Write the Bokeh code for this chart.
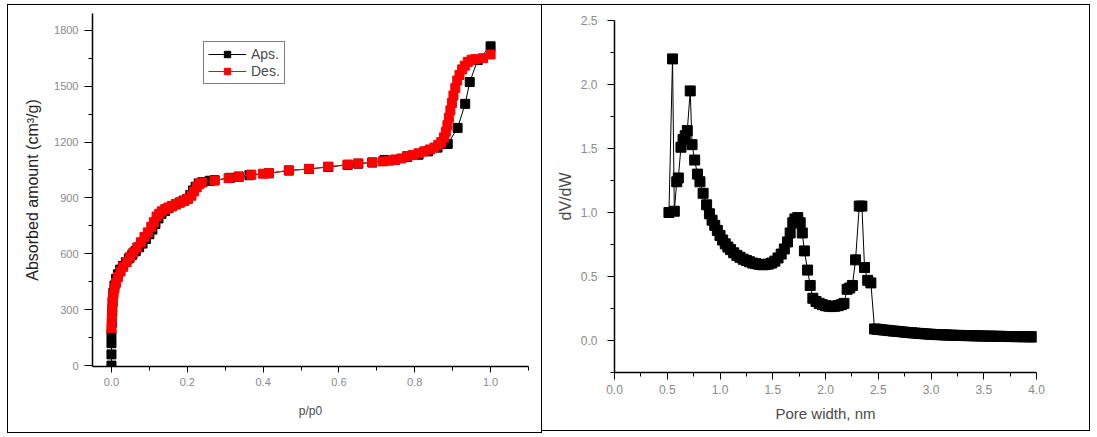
from bokeh.plotting import figure
from bokeh.layouts import row, column
from bokeh.models import FixedTicker, Range1d, PrintfTickFormatter, Legend, LegendItem, Spacer
from bokeh.embed import file_html
from bokeh.resources import INLINE

# ---------------- data: isotherm (left) ----------------
ads_p = [0.000, 0.000, 0.000, 0.000, 0.001, 0.002, 0.003, 0.005, 0.008, 0.012,
         0.017, 0.023, 0.030, 0.038, 0.046, 0.055, 0.064, 0.073, 0.082, 0.091,
         0.100, 0.108, 0.116, 0.124, 0.132, 0.141, 0.150, 0.160, 0.170, 0.180,
         0.190, 0.200, 0.208, 0.215, 0.222, 0.230, 0.240, 0.259, 0.272, 0.313,
         0.336, 0.364, 0.415, 0.468, 0.521, 0.572, 0.623, 0.651, 0.688, 0.720,
         0.748, 0.780, 0.810, 0.835, 0.860, 0.887, 0.913, 0.933, 0.945, 0.966,
         1.000]
ads_v = [0, 60, 120, 170, 230, 290, 340, 390, 430, 465,
         490, 515, 535, 555, 575, 595, 615, 635, 655, 680,
         705, 730, 760, 790, 815, 830, 845, 855, 865, 875,
         885, 895, 915, 940, 960, 978, 985, 992, 995, 1008,
         1014, 1022, 1032, 1047, 1055, 1066, 1077, 1084, 1090, 1104,
         1105, 1120, 1132, 1150, 1170, 1190, 1276, 1405, 1522, 1640,
         1714]

des_p = [1.000, 0.980, 0.960, 0.950, 0.940, 0.932, 0.925, 0.918, 0.912, 0.907,
         0.902, 0.898, 0.894, 0.890, 0.886, 0.882, 0.877, 0.870, 0.862, 0.852,
         0.840, 0.825, 0.810, 0.795, 0.780, 0.765, 0.748, 0.732, 0.716, 0.688,
         0.651, 0.623, 0.572, 0.521, 0.468, 0.415, 0.400, 0.369, 0.336, 0.309,
         0.272, 0.239, 0.232, 0.225, 0.218, 0.211, 0.202, 0.193, 0.182, 0.170,
         0.160, 0.151, 0.142, 0.133, 0.126, 0.119, 0.112, 0.105, 0.096, 0.087,
         0.078, 0.068, 0.058, 0.049, 0.040, 0.031, 0.024, 0.017, 0.012, 0.008,
         0.005, 0.003, 0.002, 0.001, 0.000]
des_v = [1670, 1650, 1645, 1642, 1630, 1610, 1590, 1560, 1530, 1490,
         1450, 1410, 1370, 1330, 1290, 1255, 1225, 1200, 1185, 1170,
         1160, 1150, 1140, 1130, 1125, 1112, 1105, 1100, 1096, 1091,
         1085, 1079, 1068, 1056, 1048, 1033, 1030, 1025, 1015, 1006,
         993, 983, 975, 957, 935, 912, 895, 885, 876, 867,
         857, 849, 840, 828, 815, 800, 770, 745, 715, 690,
         662, 634, 607, 582, 556, 530, 505, 475, 445, 415,
         380, 345, 300, 250, 200]

iso_xticks = [0.0, 0.2, 0.4, 0.6, 0.8, 1.0]
iso_xminor = [-0.1, 0.1, 0.3, 0.5, 0.7, 0.9, 1.1]
iso_yticks = [0, 300, 600, 900, 1200, 1500, 1800]
iso_yminor = [150, 450, 750, 1050, 1350, 1650]

# ---------------- data: pore size distribution (right) ----------------
pw = [0.516, 0.550, 0.567, 0.590, 0.605, 0.630, 0.650, 0.670, 0.690, 0.718,
      0.735, 0.760, 0.786, 0.810, 0.840, 0.873, 0.900, 0.925, 0.950, 0.975,
      1.000, 1.025, 1.050, 1.075, 1.100, 1.130, 1.160, 1.190, 1.220, 1.250,
      1.280, 1.310, 1.340, 1.370, 1.400, 1.430, 1.460, 1.490, 1.520, 1.550,
      1.580, 1.610, 1.640, 1.665, 1.690, 1.710, 1.737, 1.760, 1.780, 1.800,
      1.830, 1.855, 1.880, 1.910, 1.940, 1.970, 2.000, 2.030, 2.060, 2.090,
      2.120, 2.150, 2.175, 2.205, 2.230, 2.255, 2.285, 2.320, 2.345, 2.370,
      2.400, 2.430, 2.465, 2.490, 2.520, 2.550, 2.580, 2.610, 2.640, 2.670,
      2.700, 2.730, 2.760, 2.790, 2.820, 2.850, 2.880, 2.910, 2.940, 2.970,
      3.000, 3.030, 3.060, 3.090, 3.120, 3.150, 3.180, 3.210, 3.240, 3.270,
      3.300, 3.330, 3.360, 3.390, 3.420, 3.450, 3.480, 3.510, 3.540, 3.570,
      3.600, 3.630, 3.660, 3.690, 3.720, 3.750, 3.780, 3.810, 3.840, 3.870,
      3.900, 3.930, 3.960, 3.990]
dvdw = [1.00, 2.20, 1.01, 1.24, 1.27, 1.51, 1.57, 1.60, 1.64, 1.95,
        1.53, 1.41, 1.30, 1.24, 1.15, 1.06, 0.99, 0.94, 0.90, 0.86,
        0.82, 0.785, 0.755, 0.73, 0.71, 0.685, 0.665, 0.65, 0.635, 0.625,
        0.615, 0.605, 0.60, 0.595, 0.592, 0.593, 0.597, 0.605, 0.62, 0.645,
        0.675, 0.715, 0.77, 0.84, 0.92, 0.95, 0.96, 0.92, 0.84, 0.70,
        0.55, 0.43, 0.33, 0.305, 0.29, 0.28, 0.272, 0.268, 0.265, 0.268,
        0.272, 0.28, 0.29, 0.40, 0.41, 0.43, 0.63, 1.05, 1.05, 0.57,
        0.47, 0.45, 0.09, 0.088, 0.085, 0.082, 0.08, 0.077, 0.074, 0.072,
        0.07, 0.067, 0.064, 0.062, 0.06, 0.058, 0.056, 0.054, 0.052, 0.05,
        0.049, 0.047, 0.046, 0.045, 0.044, 0.043, 0.042, 0.041, 0.040, 0.040,
        0.039, 0.038, 0.038, 0.037, 0.037, 0.036, 0.035, 0.035, 0.034, 0.034,
        0.033, 0.033, 0.032, 0.032, 0.031, 0.031, 0.031, 0.030, 0.030, 0.030,
        0.029, 0.029, 0.029, 0.028]

psd_xticks = [0.0, 0.5, 1.0, 1.5, 2.0, 2.5, 3.0, 3.5, 4.0]
psd_xminor = [0.25, 0.75, 1.25, 1.75, 2.25, 2.75, 3.25, 3.75]
psd_yticks = [0.0, 0.5, 1.0, 1.5, 2.0, 2.5]
psd_yminor = [-0.25, 0.25, 0.75, 1.25, 1.75, 2.25]

FONT = "Liberation Sans"
TICK_COLOR = "#8a8a8a"
LABEL_COLOR = "#4a4a4a"


def style_axes(p, tick_size):
    for ax in (p.xaxis[0], p.yaxis[0]):
        ax.axis_line_color = "black"
        ax.axis_line_width = 1.5
        ax.major_tick_line_color = "black"
        ax.minor_tick_line_color = "black"
        ax.major_tick_in = 0
        ax.minor_tick_out = 4
        ax.minor_tick_in = 0
        ax.major_label_text_font = FONT
        ax.major_label_text_font_size = tick_size
        ax.major_label_text_color = TICK_COLOR
        ax.axis_label_text_font = FONT
        ax.axis_label_text_font_style = "normal"
        ax.axis_label_text_color = LABEL_COLOR
    p.grid.visible = False
    p.outline_line_color = None
    p.background_fill_color = "white"
    p.border_fill_color = "white"


# ---------------- left figure ----------------
p1 = figure(width=533, height=421, output_backend="svg", toolbar_location=None,
            x_range=Range1d(-0.05, 1.1), y_range=Range1d(-5, 1890),
            min_border_left=84, min_border_right=13, min_border_top=8, min_border_bottom=60)
style_axes(p1, "11px")
p1.xaxis.ticker = FixedTicker(ticks=iso_xticks, minor_ticks=iso_xminor)
p1.yaxis.ticker = FixedTicker(ticks=iso_yticks, minor_ticks=iso_yminor)
p1.xaxis.formatter = PrintfTickFormatter(format="%.1f")
p1.yaxis.formatter = PrintfTickFormatter(format="%d")
p1.xaxis.major_tick_out = 6
p1.xaxis.major_label_standoff = 5
p1.yaxis.major_tick_out = 8
p1.yaxis.major_label_standoff = 6
p1.xaxis.axis_label = "p/p0"
p1.yaxis.axis_label = "Absorbed amount (cm³/g)"
p1.xaxis.axis_label_text_font_size = "12px"
p1.yaxis.axis_label_text_font_size = "16px"
p1.xaxis.axis_label_standoff = 15
p1.yaxis.axis_label_standoff = 10
p1.yaxis.axis_label_text_color = "#222222"

l_ads = p1.line(ads_p, ads_v, line_color="black", line_width=1)
s_ads = p1.scatter(ads_p, ads_v, marker="square", size=9, fill_color="black", line_color="black")
l_des = p1.line(des_p, des_v, line_color="red", line_width=1)
s_des = p1.scatter(des_p, des_v, marker="square", size=9, fill_color="red", line_color="red")

legend = Legend(items=[LegendItem(label="Aps.", renderers=[l_ads, s_ads]),
                       LegendItem(label="Des.", renderers=[l_des, s_des])],
                location=(111, 282))
legend.border_line_color = "black"
legend.border_line_width = 1.5
legend.background_fill_alpha = 1
legend.label_text_font = FONT
legend.label_text_font_size = "14px"
legend.label_text_color = LABEL_COLOR
legend.glyph_width = 38
legend.glyph_height = 16
legend.label_standoff = 5
legend.padding = 4
legend.spacing = 1
legend.margin = 0
legend.label_height = 16
p1.add_layout(legend, "center")

# ---------------- right figure ----------------
p2 = figure(width=549, height=427, output_backend="svg", toolbar_location=None,
            x_range=Range1d(0, 4.0), y_range=Range1d(-0.25, 2.5),
            min_border_left=72, min_border_right=55, min_border_top=15, min_border_bottom=60)
style_axes(p2, "12px")
p2.xaxis.ticker = FixedTicker(ticks=psd_xticks, minor_ticks=psd_xminor)
p2.yaxis.ticker = FixedTicker(ticks=psd_yticks, minor_ticks=psd_yminor)
p2.xaxis.formatter = PrintfTickFormatter(format="%.1f")
p2.yaxis.formatter = PrintfTickFormatter(format="%.1f")
p2.xaxis.major_tick_out = 7
p2.xaxis.major_label_standoff = 5
p2.yaxis.major_tick_out = 7
p2.yaxis.major_label_standoff = 10
p2.xaxis.axis_label = "Pore width, nm"
p2.yaxis.axis_label = "dV/dW"
p2.xaxis.axis_label_text_font_size = "15px"
p2.yaxis.axis_label_text_font_size = "16px"
p2.xaxis.axis_label_standoff = 8
p2.yaxis.axis_label_standoff = 4

p2.line(pw, dvdw, line_color="black", line_width=1)
p2.scatter(pw, dvdw, marker="square", size=10, fill_color="black", line_color="black")

left_box = column(p1, Spacer(width=533, height=6),
                  styles={"border": "1.5px solid black", "background": "white"})
p2.styles = {"border": "1.5px solid black", "margin-left": "-1.5px"}

layout = row(left_box, p2, styles={"margin-left": "7px", "margin-top": "4px"})

open("out.html", "w").write(file_html(layout, INLINE))
